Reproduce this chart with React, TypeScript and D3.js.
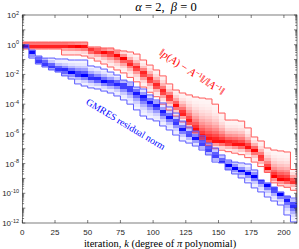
import React from 'react';
import * as d3 from 'd3';

// iteration numbers at which the envelopes were read (every 5 steps)
const iters = d3.range(0, 211, 5);

// log10 of ||p(A) - A^-1|| / ||A^-1||  (upper envelope, typical, lower envelope)
const redUpper = [0.18, 0.18, 0.18, 0.18, 0.18, 0.18, 0.18, 0.18, 0.18, 0.18, -0.15, -0.15, -0.22, -0.22, -0.36, -0.42, -0.49, -0.63, -1.03, -1.37, -1.7, -2.1, -2.64, -3.05, -3.25, -3.38, -3.52, -3.59, -3.65, -4.0, -4.6, -5.07, -5.07, -5.14, -5.6, -6.21, -6.48, -6.95, -7.09, -7.15, -7.22, -8.4, -8.9];
const redMid = [-0.06, -0.06, -0.06, -0.06, -0.06, -0.06, -0.06, -0.08, -0.1, -0.12, -0.36, -0.42, -0.49, -0.56, -0.69, -0.9, -1.23, -1.57, -1.97, -2.38, -2.78, -3.18, -3.59, -4.13, -4.66, -5.2, -5.74, -6.21, -6.41, -6.48, -6.55, -6.62, -6.68, -6.75, -6.88, -7.09, -7.62, -8.3, -8.9, -9.1, -9.17, -9.24, -9.3];
const redLower = [-0.29, -0.29, -0.29, -0.29, -0.29, -0.29, -0.69, -0.69, -0.69, -0.76, -0.9, -1.1, -1.3, -1.5, -1.7, -1.9, -2.2, -2.5, -2.85, -3.2, -3.5, -4.0, -4.4, -4.8, -5.2, -5.6, -5.95, -6.4, -6.8, -7.0, -7.1, -7.2, -7.3, -7.4, -7.6, -7.9, -8.2, -8.6, -9.3, -9.5, -9.6, -9.8, -10.0];

// log10 of the GMRES residual norm
const blueUpper = [0.0, -0.36, -0.76, -0.9, -0.9, -0.96, -0.96, -1.03, -1.03, -1.03, -1.43, -1.5, -1.64, -1.84, -2.04, -2.38, -2.51, -2.85, -2.98, -3.38, -3.72, -3.92, -4.19, -4.6, -5.14, -5.54, -5.81, -6.14, -6.62, -6.95, -7.42, -7.76, -7.9, -7.96, -8.03, -8.43, -9.1, -9.3, -9.58, -9.91, -10.18, -10.32, -10.59];
const blueMid = [0.0, -0.49, -1.03, -1.23, -1.43, -1.64, -1.77, -1.9, -2.04, -2.1, -2.24, -2.37, -2.51, -2.58, -2.64, -2.78, -2.98, -3.25, -3.52, -3.86, -4.13, -4.53, -4.87, -5.2, -5.67, -6.01, -6.28, -6.62, -7.02, -7.42, -7.83, -8.1, -8.3, -8.5, -8.7, -8.9, -9.17, -9.5, -9.78, -10.1, -10.45, -10.8, -11.1];
const blueLower = [-0.22, -0.9, -1.3, -1.5, -1.7, -1.84, -2.1, -2.31, -2.64, -2.78, -2.91, -2.98, -3.12, -3.25, -3.45, -3.72, -4.0, -4.39, -4.8, -5.0, -5.13, -5.47, -5.74, -6.08, -6.48, -6.62, -6.82, -7.09, -7.42, -7.9, -7.96, -8.43, -8.7, -8.97, -9.3, -9.64, -9.91, -10.25, -10.52, -10.79, -11.46, -11.93, -12.2];

const xTicks = [0, 25, 50, 75, 100, 125, 150, 175, 200];
const yLabelExps = [2, 0, -2, -4, -6, -8, -10, -12];

const W = 299;
const H = 249;
const left = 22.3, right = 297, top = 15, bottom = 223;

const x = d3.scaleLinear().domain([0, 210]).range([left, right]);
const y = d3.scaleLog().domain([1e-12, 1e2]).range([bottom, top]);
const ye = (e: number) => y(Math.pow(10, e));

const axisColor = '#262626';
const tickFont = '"Liberation Sans", Arial, sans-serif';
const serif = '"Liberation Serif", "DejaVu Serif", serif';

function Band({ upper, mid, lower, color, edge }: { upper: number[]; mid: number[]; lower: number[]; color: string; edge: string }) {
  const cells: React.ReactNode[] = [];
  const step = 0.2;
  iters.forEach((k, i) => {
    const x0 = x(k);
    const x1 = x(Math.min(k + 5, 210));
    if (x1 <= x0) return;
    const u = upper[i], c = mid[i], l = lower[i];
    for (let r = Math.floor(l / step); r * step < u; r++) {
      const e0 = Math.max(r * step, l);
      const e1 = Math.min((r + 1) * step, u);
      if (e1 <= e0) continue;
      const e = (e0 + e1) / 2;
      let t = e >= c ? 1 - (e - c) / Math.max(u - c, 0.6) : 1 - (c - e) / Math.max(c - l, 0.6);
      t = Math.max(0, Math.min(1, t));
      const a = 0.04 + 0.96 * Math.pow(t, 2.2);
      cells.push(
        <rect key={`${i}-${r}`} x={x0} y={ye(e1)} width={x1 - x0} height={ye(e0) - ye(e1)}
          fill={color} fillOpacity={a} shapeRendering="crispEdges" />
      );
    }
  });
  const line = d3.line<number>()
    .x((_, i) => x(iters[i]))
    .y(d => ye(d))
    .curve(d3.curveStepAfter);
  return (
    <g>
      {cells}
      <path d={line(upper) || ''} fill="none" stroke={edge} strokeWidth={1} />
      <path d={line(lower) || ''} fill="none" stroke={edge} strokeWidth={1} />
    </g>
  );
}

export default function App() {
  const minor: React.ReactNode[] = [];
  for (let e = -12; e < 2; e++) {
    for (let m = 2; m <= 9; m++) {
      const yy = y(m * Math.pow(10, e));
      minor.push(<line key={`l${e}${m}`} x1={left} x2={left + 1.8} y1={yy} y2={yy} />);
      minor.push(<line key={`r${e}${m}`} x1={right} x2={right - 1.8} y1={yy} y2={yy} />);
    }
  }
  const major: React.ReactNode[] = [];
  for (let e = -12; e <= 2; e++) {
    const yy = ye(e);
    major.push(<line key={`ml${e}`} x1={left} x2={left + 3} y1={yy} y2={yy} />);
    major.push(<line key={`mr${e}`} x1={right} x2={right - 3} y1={yy} y2={yy} />);
  }

  return (
    <svg width={W} height={H} style={{ position: 'absolute', left: 0, top: 0, background: '#fff' }}>
      <defs>
        <clipPath id="plot">
          <rect x={left} y={top} width={right - left} height={bottom - top} />
        </clipPath>
      </defs>
      <rect x={0} y={0} width={W} height={H} fill="#fff" />

      <g clipPath="url(#plot)">
        <Band upper={redUpper} mid={redMid} lower={redLower} color="#ff0000" edge="#ff5a5a" />
        <Band upper={blueUpper} mid={blueMid} lower={blueLower} color="#0000ff" edge="#5a5aff" />
      </g>

      {/* axes box and ticks */}
      <g stroke={axisColor} strokeWidth={0.6}>
        <rect x={left} y={top} width={right - left} height={bottom - top} fill="none" />
        {minor}
        {major}
        {xTicks.map(t => (
          <g key={t}>
            <line x1={x(t)} x2={x(t)} y1={bottom} y2={bottom - 3} />
            <line x1={x(t)} x2={x(t)} y1={top} y2={top + 3} />
          </g>
        ))}
      </g>

      <g fill={axisColor} fontFamily={tickFont} fontSize={8}>
        {xTicks.map(t => (
          <text key={t} x={x(t)} y={235} textAnchor="middle">{t}</text>
        ))}
        {yLabelExps.map(e => (
          <text key={e} x={19} y={ye(e) + 3} textAnchor="end">
            10<tspan dy={-3.5} fontSize={5.5}>{e}</tspan>
          </text>
        ))}
      </g>

      <text x={160} y={247} textAnchor="middle" fontFamily={serif} fontSize={10.5} fill="#000">
        iteration, <tspan fontStyle="italic">k</tspan> (degree of <tspan fontStyle="italic">π</tspan> polynomial)
      </text>

      <text x={166} y={11} textAnchor="middle" fontFamily={serif} fontSize={12.5} fill="#000" style={{ whiteSpace: 'pre' }}>
        <tspan fontStyle="italic">α</tspan>{' = 2,  '}<tspan fontStyle="italic">β</tspan>{' = 0'}
      </text>

      <text transform="translate(124,127) rotate(31)" textAnchor="middle" fontFamily={serif} fontSize={9.8} fill="#0000ff">
        GMRES residual norm
      </text>

      <text transform="translate(190,75) rotate(33)" textAnchor="middle" fontFamily={serif} fontSize={11} fill="#ff0000">
        ‖<tspan fontStyle="italic">p</tspan>(<tspan fontStyle="italic">A</tspan>) − <tspan fontStyle="italic">A</tspan>
        <tspan dy={-3.5} fontSize={7}>−1</tspan><tspan dy={3.5}>‖/‖</tspan><tspan fontStyle="italic">A</tspan>
        <tspan dy={-3.5} fontSize={7}>−1</tspan><tspan dy={3.5}>‖</tspan>
      </text>
    </svg>
  );
}
